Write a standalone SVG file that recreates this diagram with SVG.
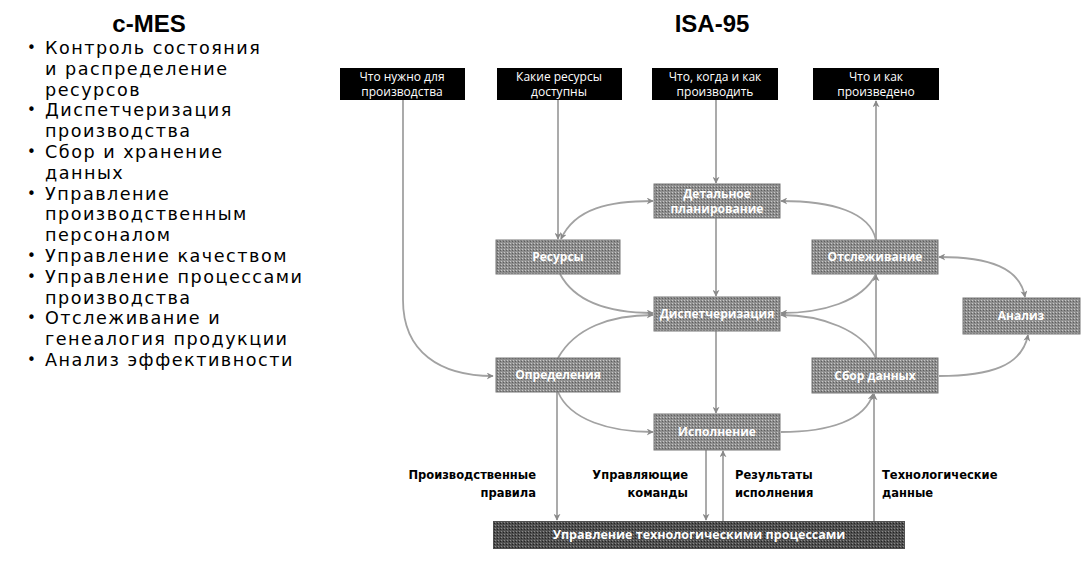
<svg xmlns="http://www.w3.org/2000/svg" width="1081" height="565" viewBox="0 0 1081 565">
<defs>
<marker id="ah" viewBox="0 0 10 10" refX="9" refY="5" markerWidth="7" markerHeight="7" orient="auto-start-reverse" markerUnits="userSpaceOnUse">
<path d="M0,0 L10,5 L0,10 L3,5 Z" fill="#8a8a8a"/>
</marker>
<pattern id="dots" width="3" height="3" patternUnits="userSpaceOnUse">
<rect width="3" height="3" fill="#8e8e8e"/>
<rect x="0" y="0" width="1" height="1" fill="#c8c8c8"/>
<rect x="2" y="1" width="1" height="1" fill="#5e5e5e"/>
</pattern>
<pattern id="dots2" width="3" height="3" patternUnits="userSpaceOnUse">
<rect width="3" height="3" fill="#505050"/>
<rect x="0" y="0" width="1" height="1" fill="#8a8a8a"/>
<rect x="2" y="1" width="1" height="1" fill="#222"/>
</pattern>
</defs>
<style>
.title{font-family:"Liberation Sans",Arial,sans-serif;font-weight:bold;font-size:24px;fill:#000;text-anchor:middle}
.li{font-family:"DejaVu Sans",Verdana,sans-serif;font-size:17.6px;letter-spacing:1.5px;fill:#000}
.bul{font-family:"DejaVu Sans",Verdana,sans-serif;font-size:15px;fill:#000}
.blk{fill:#000}
.bt{font-family:"Open Sans","DejaVu Sans",sans-serif;font-size:12px;fill:#fff;text-anchor:middle}
.gry{fill:url(#dots);stroke:#777;stroke-width:1}
.gt{font-family:"Open Sans","DejaVu Sans",sans-serif;font-weight:bold;font-size:12px;fill:#fff;text-anchor:middle}
.lab{font-family:"DejaVu Sans",Verdana,sans-serif;font-weight:bold;font-size:11.5px;fill:#000}
.c{fill:none;stroke:#a2a2a2;stroke-width:1.8}
</style>
<text class="title" x="149" y="32">c-MES</text>
<text class="title" x="712" y="32">ISA-95</text>
<g id="list">
<text class="bul" x="27" y="53">•</text><text class="li" x="45" y="54">Контроль состояния</text>
<text class="li" x="45" y="74.8">и распределение</text>
<text class="li" x="45" y="95.6">ресурсов</text>
<text class="bul" x="27" y="115.4">•</text><text class="li" x="45" y="116.4">Диспетчеризация</text>
<text class="li" x="45" y="137.2">производства</text>
<text class="bul" x="27" y="157">•</text><text class="li" x="45" y="158">Сбор и хранение</text>
<text class="li" x="45" y="178.8">данных</text>
<text class="bul" x="27" y="198.6">•</text><text class="li" x="45" y="199.6">Управление</text>
<text class="li" x="45" y="220.4">производственным</text>
<text class="li" x="45" y="241.2">персоналом</text>
<text class="bul" x="27" y="261">•</text><text class="li" x="45" y="262">Управление качеством</text>
<text class="bul" x="27" y="281.8">•</text><text class="li" x="45" y="282.8">Управление процессами</text>
<text class="li" x="45" y="303.6">производства</text>
<text class="bul" x="27" y="323.4">•</text><text class="li" x="45" y="324.4">Отслеживание и</text>
<text class="li" x="45" y="345.2">генеалогия продукции</text>
<text class="bul" x="27" y="365">•</text><text class="li" x="45" y="366">Анализ эффективности</text>
</g>
<g id="connectors">
<path class="c" d="M403,100 L403,300 C403,352 440,376 493,376" marker-end="url(#ah)"/>
<path class="c" d="M558,100 L558,239" marker-end="url(#ah)"/>
<path class="c" d="M716,100 L716,183" marker-end="url(#ah)"/>
<path class="c" d="M876,240 L876,101" marker-end="url(#ah)"/>
<path class="c" d="M561,239 C575,208 610,201 653,201" marker-start="url(#ah)" marker-end="url(#ah)"/>
<path class="c" d="M876,240 C870,212 832,201 781,201" marker-end="url(#ah)"/>
<path class="c" d="M716,218 L716,296" marker-end="url(#ah)"/>
<path class="c" d="M560,274 C575,302 610,313 653,313" marker-end="url(#ah)"/>
<path class="c" d="M558,358 C575,328 610,315 653,315" marker-end="url(#ah)"/>
<path class="c" d="M876,274 C862,302 822,313 781,313" marker-end="url(#ah)"/>
<path class="c" d="M876,358 C862,330 822,315 781,315" marker-end="url(#ah)"/>
<path class="c" d="M876,358 L876,275" marker-end="url(#ah)"/>
<path class="c" d="M939,257 C990,257 1020,268 1025,297" marker-start="url(#ah)" marker-end="url(#ah)"/>
<path class="c" d="M939,376 C990,376 1022,366 1028,335" marker-end="url(#ah)"/>
<path class="c" d="M558,392 C570,420 610,432 653,432" marker-end="url(#ah)"/>
<path class="c" d="M557,392 L557,520" marker-end="url(#ah)"/>
<path class="c" d="M716,331 L716,413" marker-end="url(#ah)"/>
<path class="c" d="M706,450 L706,520" marker-end="url(#ah)"/>
<path class="c" d="M723,521 L723,451" marker-end="url(#ah)"/>
<path class="c" d="M781,432 C830,432 865,420 873,394" marker-end="url(#ah)"/>
<path class="c" d="M874,521 L874,394" marker-end="url(#ah)"/>
</g>
<g id="n-need"><rect class="blk" x="340" y="68" width="125" height="32"/><text class="bt" x="402" y="81">Что нужно для</text><text class="bt" x="402" y="96">производства</text></g>
<g id="n-avail"><rect class="blk" x="497" y="68" width="125" height="32"/><text class="bt" x="559" y="81">Какие ресурсы</text><text class="bt" x="559" y="96">доступны</text></g>
<g id="n-what"><rect class="blk" x="652" y="68" width="126" height="32"/><text class="bt" x="715" y="81">Что, когда и как</text><text class="bt" x="715" y="96">производить</text></g>
<g id="n-done"><rect class="blk" x="813" y="68" width="126" height="32"/><text class="bt" x="876" y="81">Что и как</text><text class="bt" x="876" y="96">произведено</text></g>
<g id="n-plan"><rect class="gry" x="654" y="184" width="126" height="34"/><text class="gt" x="717" y="198">Детальное</text><text class="gt" x="717" y="213">планирование</text></g>
<g id="n-res"><rect class="gry" x="496" y="240" width="124" height="34"/><text class="gt" x="558" y="261">Ресурсы</text></g>
<g id="n-track"><rect class="gry" x="812" y="240" width="126" height="34"/><text class="gt" x="875" y="261">Отслеживание</text></g>
<g id="n-disp"><rect class="gry" x="654" y="297" width="126" height="34"/><text class="gt" x="717" y="318">Диспетчеризация</text></g>
<g id="n-anal"><rect class="gry" x="963" y="298" width="117" height="36"/><text class="gt" x="1021" y="320">Анализ</text></g>
<g id="n-def"><rect class="gry" x="496" y="358" width="124" height="34"/><text class="gt" x="558" y="379">Определения</text></g>
<g id="n-coll"><rect class="gry" x="812" y="358" width="126" height="35"/><text class="gt" x="875" y="380">Сбор данных</text></g>
<g id="n-exec"><rect class="gry" x="654" y="414" width="126" height="36"/><text class="gt" x="717" y="436">Исполнение</text></g>
<g id="n-pcs"><rect x="493" y="521" width="412" height="28" fill="url(#dots2)"/><text class="gt" x="699" y="539" style="font-size:12.5px">Управление технологическими процессами</text></g>
<g id="labels">
<text class="lab" x="536" y="479" text-anchor="end">Производственные</text>
<text class="lab" x="536" y="497" text-anchor="end">правила</text>
<text class="lab" x="688" y="479" text-anchor="end">Управляющие</text>
<text class="lab" x="688" y="497" text-anchor="end">команды</text>
<text class="lab" x="735" y="479">Результаты</text>
<text class="lab" x="735" y="497">исполнения</text>
<text class="lab" x="882" y="479">Технологические</text>
<text class="lab" x="882" y="497">данные</text>
</g>
</svg>
